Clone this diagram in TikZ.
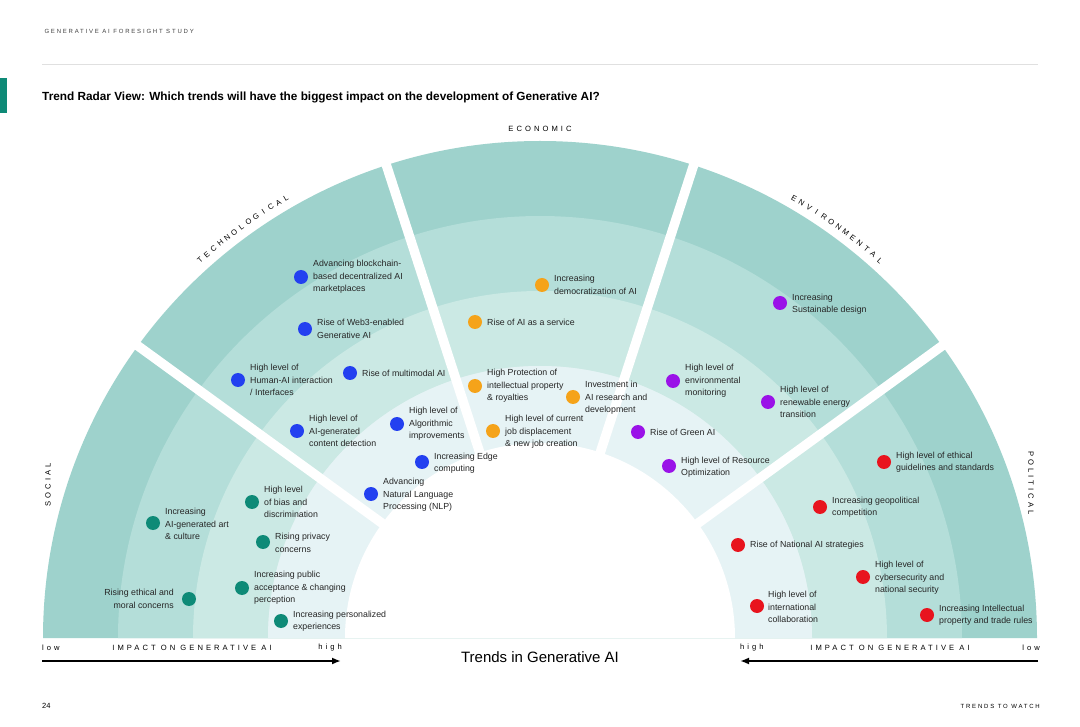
\documentclass[tikz,border=0pt]{standalone}
\usepackage{fontspec}
\setmainfont{Liberation Sans}
\usetikzlibrary{calc,arrows.meta}
\begin{document}
\begin{tikzpicture}[x=1pt,y=1pt,
  lbl/.style={anchor=west,align=left,font=\fontsize{8.8}{12.5}\selectfont,text=black!85,inner sep=0pt},
  dot/.style={circle,fill=#1,minimum size=14pt,inner sep=0pt},
  spaced/.style={font=\fontsize{7.6}{9}\selectfont\addfontfeature{LetterSpace=40}},
  arcch/.style={font=\fontsize{7.6}{9}\selectfont,inner sep=0pt}]
\definecolor{r1}{HTML}{9ED2CC}\definecolor{r2}{HTML}{B4DED9}\definecolor{r3}{HTML}{CBE9E4}
\definecolor{r4}{HTML}{DCF0EE}\definecolor{r5}{HTML}{E6F3F5}
\definecolor{cT}{HTML}{0E8A77}\definecolor{cB}{HTML}{2340F0}\definecolor{cO}{HTML}{F5A31A}
\definecolor{cP}{HTML}{9A12E8}\definecolor{cR}{HTML}{E8141E}
\useasboundingbox (0,0) rectangle (1080,-727);
\fill[white] (0,0) rectangle (1080,-727);
\coordinate (C) at (540,-638);
\foreach \r/\c in {497/r1,422/r2,347/r3,272/r4}{
  \fill[\c] ($(C)+(-\r,0)$) arc[start angle=180,end angle=0,radius=\r] -- cycle;}
\fill[r5] (C) ++(-272,0) arc[start angle=180,end angle=0,radius=272] -- cycle;
\fill[white] (C) ++(-195,0) arc[start angle=180,end angle=0,radius=195] -- cycle;
\foreach \a in {36,72,108,144}{\draw[white,line width=9.5pt] (C) ++(\a:180) -- ++(\a:330);}
% header
\node[anchor=west,font=\fontsize{6}{8}\selectfont\addfontfeature{LetterSpace=30},text=black!75] (hd) at (41,-31) {GENERATIVE AI FORESIGHT STUDY};
\draw[black!12,line width=0.6pt] (42,-64) -- (1038,-64);
\fill[cT] (0,-78) rectangle (7,-113);
\node[anchor=west,font=\fontsize{11.8}{13}\selectfont\bfseries,inner sep=0pt] (title) at (42,-97) {Trend Radar View: Which trends will have the biggest impact on the development of Generative AI?};
\node[spaced] (eco) at (540,-129) {ECONOMIC};
\node[spaced,rotate=90] (soc) at (48,-485) {SOCIAL};
\node[spaced,rotate=-90] (pol) at (1031,-483) {POLITICAL};
\foreach \ch [count=\i] in {T,E,C,H,N,O,L,O,G,I,C,A,L}{
  \pgfmathsetmacro\ang{126+(7-\i)*1.0}
  \node[arcch,rotate=\ang-90] at ($(C)+(\ang:508)$) {\ch};}
\foreach \ch [count=\i] in {E,N,V,I,R,O,N,M,E,N,T,A,L}{
  \pgfmathsetmacro\ang{54+(7-\i)*1.0}
  \node[arcch,rotate=\ang-90] at ($(C)+(\ang:508)$) {\ch};}
% technological
\node[dot=cB] (t1) at (301,-277) {}; \node[lbl] at (313,-277) {Advancing blockchain-\\based decentralized AI\\marketplaces};
\node[dot=cB] (t2) at (305,-329) {}; \node[lbl] at (317,-329) {Rise of Web3-enabled\\Generative AI};
\node[dot=cB] (t3) at (238,-380) {}; \node[lbl] at (250,-380) {High level of\\Human-AI interaction\\/ Interfaces};
\node[dot=cB] (t4) at (350,-373) {}; \node[lbl] at (362,-373) {Rise of multimodal AI};
\node[dot=cB] (t5) at (297,-431) {}; \node[lbl] at (309,-431) {High level of\\AI-generated\\content detection};
\node[dot=cB] (t6) at (397,-424) {}; \node[lbl] at (409,-424) {High level of\\Algorithmic\\improvements};
\node[dot=cB] (t7) at (422,-462) {}; \node[lbl] at (434,-463) {Increasing Edge\\computing};
\node[dot=cB] (t8) at (371,-494) {}; \node[lbl] at (383,-495) {Advancing\\Natural Language\\Processing (NLP)};
% economic
\node[dot=cO] (e1) at (542,-285) {}; \node[lbl] at (554,-285) {Increasing\\democratization of AI};
\node[dot=cO] (e2) at (475,-322) {}; \node[lbl] at (487,-322) {Rise of AI as a service};
\node[dot=cO] (e3) at (475,-386) {}; \node[lbl] at (487,-386) {High Protection of\\intellectual property\\\& royalties};
\node[dot=cO] (e4) at (573,-397) {}; \node[lbl] at (585,-398) {Investment in\\AI research and\\development};
\node[dot=cO] (e5) at (493,-431) {}; \node[lbl] at (505,-432) {High level of current\\job displacement\\\& new job creation};
% environmental
\node[dot=cP] (v1) at (780,-303) {}; \node[lbl] at (792,-304) {Increasing\\Sustainable design};
\node[dot=cP] (v2) at (673,-381) {}; \node[lbl] at (685,-381) {High level of\\environmental\\monitoring};
\node[dot=cP] (v3) at (768,-402) {}; \node[lbl] at (780,-402) {High level of\\renewable energy\\transition};
\node[dot=cP] (v4) at (638,-432) {}; \node[lbl] at (650,-432) {Rise of Green AI};
\node[dot=cP] (v5) at (669,-466) {}; \node[lbl] at (681,-467) {High level of Resource\\Optimization};
% political
\node[dot=cR] (p1) at (884,-462) {}; \node[lbl] at (896,-462) {High level of ethical\\guidelines and standards};
\node[dot=cR] (p2) at (820,-507) {}; \node[lbl] at (832,-507) {Increasing geopolitical\\competition};
\node[dot=cR] (p3) at (738,-545) {}; \node[lbl] at (750,-545) {Rise of National AI strategies};
\node[dot=cR] (p4) at (863,-577) {}; \node[lbl] at (875,-578) {High level of\\cybersecurity and\\national security};
\node[dot=cR] (p5) at (757,-606) {}; \node[lbl] at (768,-607) {High level of\\international\\collaboration};
\node[dot=cR] (p6) at (927,-615) {}; \node[lbl] at (939,-615) {Increasing Intellectual\\property and trade rules};
% social
\node[dot=cT] (s1) at (153,-523) {}; \node[lbl] at (165,-524) {Increasing\\AI-generated art\\\& culture};
\node[dot=cT] (s2) at (252,-502) {}; \node[lbl] at (264,-502) {High level\\of bias and\\discrimination};
\node[dot=cT] (s3) at (263,-542) {}; \node[lbl] at (275,-543) {Rising privacy\\concerns};
\node[dot=cT] (s4) at (242,-588) {}; \node[lbl] at (254,-588) {Increasing public\\acceptance \& changing\\perception};
\node[dot=cT] (s5) at (189,-599) {}; \node[lbl,anchor=east,align=right] at (174,-599) {Rising ethical and\\moral concerns};
\node[dot=cT] (s6) at (281,-621) {}; \node[lbl] at (293,-621) {Increasing personalized\\experiences};
% bottom
\node[spaced,anchor=west,inner sep=0pt] (lo1) at (42,-648) {low};
\node[spaced] (im1) at (192,-648) {IMPACT ON GENERATIVE AI};
\node[spaced,anchor=east,inner sep=0pt] (hi1) at (342,-648) {high};
\coordinate (a1) at (42,-661); \coordinate (a2) at (341,-661);
\draw[line width=1.8pt,-{Latex[length=9pt,width=7pt]}] (a1) -- (a2);
\node[spaced,anchor=west,inner sep=0pt] (hi2) at (740,-648) {high};
\node[spaced] (im2) at (890,-648) {IMPACT ON GENERATIVE AI};
\node[spaced,anchor=east,inner sep=0pt] (lo2) at (1040,-648) {low};
\coordinate (b1) at (1038,-661); \coordinate (b2) at (740,-661);
\draw[line width=1.8pt,-{Latex[length=9pt,width=7pt]}] (b1) -- (b2);
\node[font=\fontsize{15}{17}\selectfont] (tr) at (540,-657) {Trends in Generative AI};
\node[anchor=west,font=\fontsize{7.5}{9}\selectfont,inner sep=0pt] (pg) at (42,-706) {24};
\node[anchor=east,font=\fontsize{6}{8}\selectfont\addfontfeature{LetterSpace=30},inner sep=0pt] (tw) at (1040,-706) {TRENDS TO WATCH};
\end{tikzpicture}
\end{document}
